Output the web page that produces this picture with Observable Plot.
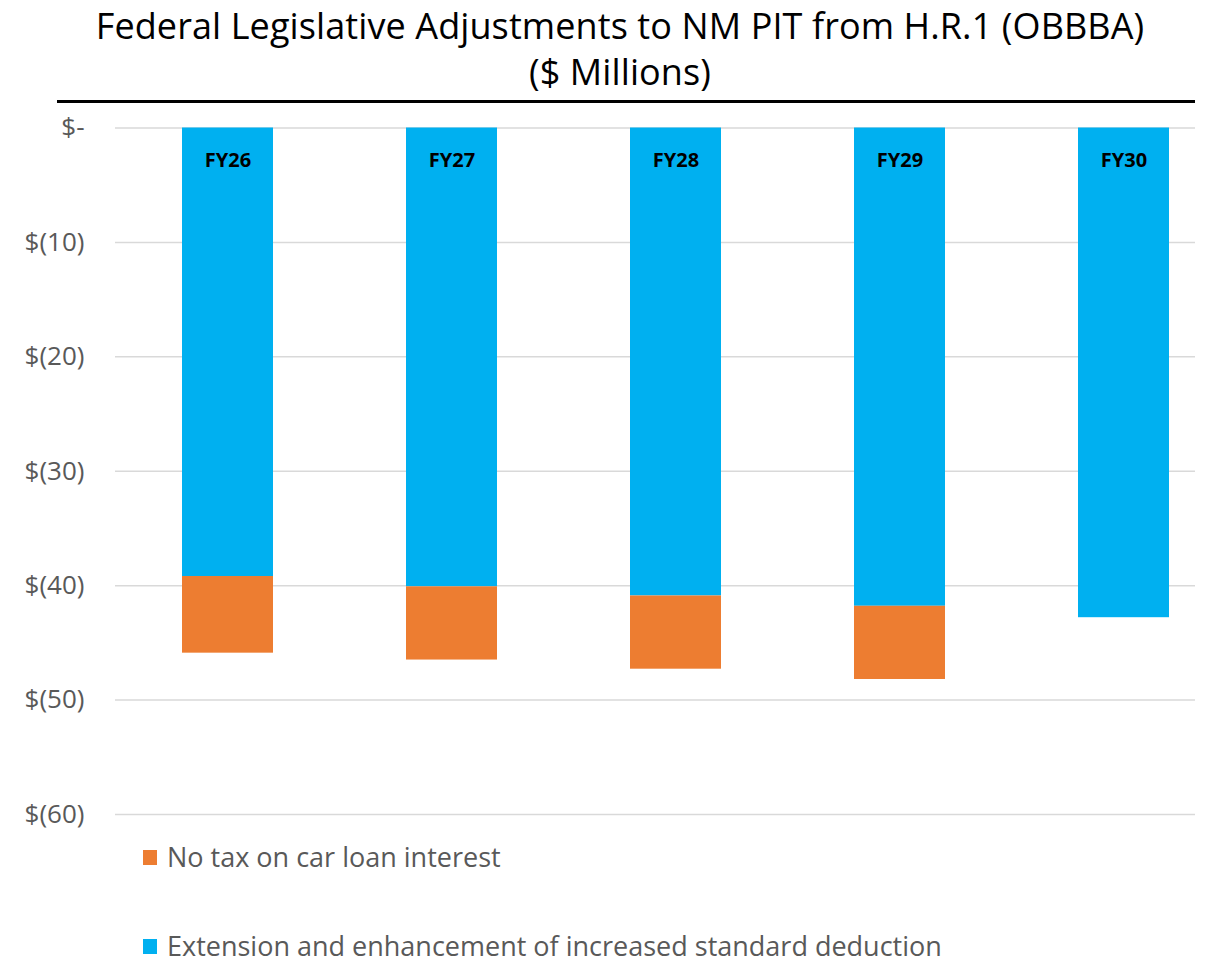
<!DOCTYPE html>
<html><head><meta charset="utf-8">
<script src="https://cdn.jsdelivr.net/npm/d3@7"></script>
<script src="https://cdn.jsdelivr.net/npm/@observablehq/plot@0.6"></script>
<style>
body{margin:0;background:#fff;font-family:"Open Sans",sans-serif;}
#wrap{position:relative;width:1209px;height:966px;overflow:hidden;}
#title{position:absolute;left:45px;width:1150px;top:3px;text-align:center;font-size:36px;line-height:46px;color:#000;letter-spacing:0.1px;}
#rule{position:absolute;left:57px;width:1138px;top:100px;height:3px;background:#000;}
#chart{position:absolute;left:0;top:106px;}
.leg{position:absolute;left:143px;font-size:27px;line-height:36px;color:#595959;display:flex;align-items:center;}
.leg span.sw{display:inline-block;width:14px;height:15px;margin-right:10px;}
</style></head>
<body><div id="wrap">
<div id="title">Federal Legislative Adjustments to NM PIT from H.R.1 (OBBBA)<br>($ Millions)</div>
<div id="rule"></div>
<div id="chart"></div>
<div id="legend"></div>
</div>
<script>
const years = ["FY26","FY27","FY28","FY29","FY30"];
const stdDeduction = [-39.2,-40.1,-40.9,-41.8,-42.8];
const carLoan = [-6.7,-6.4,-6.4,-6.4,0];
const seriesNames = ["No tax on car loan interest","Extension and enhancement of increased standard deduction"];
const seriesColors = ["#ED7D31","#00B0F0"];
const yTicks = [0,-10,-20,-30,-40,-50,-60];

const rows = [];
years.forEach((y,i)=>rows.push({year:y, series:seriesNames[1], value:stdDeduction[i]}));
years.forEach((y,i)=>{ if (carLoan[i] !== 0) rows.push({year:y, series:seriesNames[0], value:carLoan[i]}); });

const fmt = v => v === 0 ? "$-" : "$(" + Math.abs(v) + ")";

const plot = Plot.plot({
  width: 1209,
  height: 730,
  marginLeft: 115,
  marginRight: 14,
  marginTop: 21.5,
  marginBottom: 22,
  style: {fontFamily: "'Open Sans', sans-serif", background: "transparent"},
  x: {domain: years, range: [115, 1235], paddingInner: 0.594, paddingOuter: 0.297, axis: null},
  y: {domain: [-60, 0], ticks: yTicks, tickFormat: fmt},
  color: {domain: seriesNames, range: seriesColors},
  marks: [
    Plot.ruleY(yTicks, {stroke: "#d9d9d9", strokeWidth: 1.5}),
    Plot.barY(rows, {x: "year", y: "value", fill: "series", order: null}),
    Plot.text(years, {x: d => d, y: () => 0, text: d => d, dy: 33, fontWeight: "bold", fontSize: 20, fill: "#000"}),
    Plot.axisY({ticks: yTicks, tickFormat: fmt, tickSize: 0, tickPadding: 31, fontSize: 26, fill: "#595959", label: null})
  ]
});
document.getElementById("chart").appendChild(plot);

const legend = document.getElementById("legend");
[[seriesNames[0], seriesColors[0], 839], [seriesNames[1], seriesColors[1], 928]].forEach(([name,color,top])=>{
  const d = document.createElement("div");
  d.className = "leg";
  d.style.top = top + "px";
  d.innerHTML = '<span class="sw" style="background:'+color+'"></span>' + name;
  legend.appendChild(d);
});
</script>
</body></html>
